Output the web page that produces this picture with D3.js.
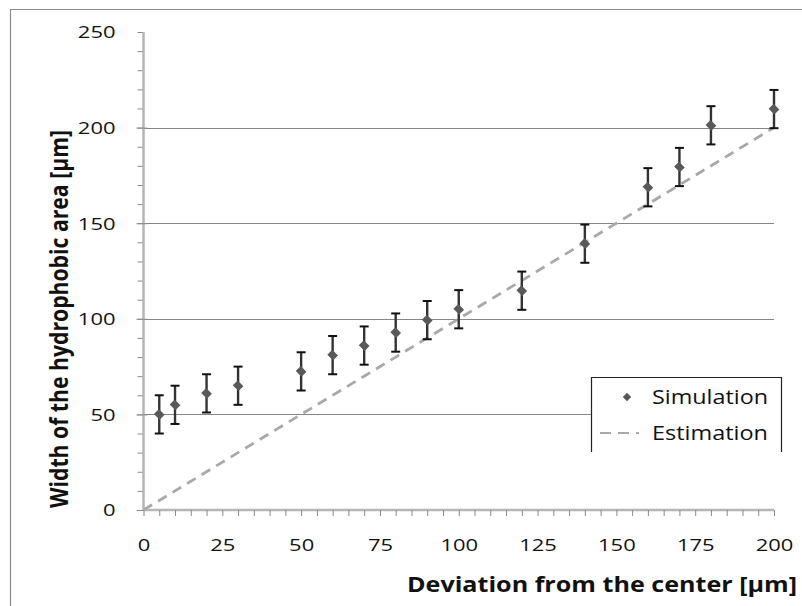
<!DOCTYPE html>
<html><head><meta charset="utf-8">
<script src="https://cdn.jsdelivr.net/npm/d3@7"></script>
<style>body{margin:0;background:#fff}svg{display:block}</style>
</head><body>
<svg id="c" width="802" height="606"></svg>
<script>
const xValues = [5,10,20,30,50,60,70,80,90,100,120,140,160,170,180,200];
const simValues = [50,55,61,65,72.5,81,86,92.8,99.3,105,114.7,139.3,168.8,179.4,201.2,209.7];
const errValues = [10,10,10,10,10,10,10,10,10,10,10,10,10,10,10,10];
const estX = [0,200];
const estY = [0,200];
const xTicks = [0,25,50,75,100,125,150,175,200];
const yTicks = [0,50,100,150,200,250];
const seriesNames = ["Simulation","Estimation"];
const xTitle = "Deviation from the center [µm]";
const yTitle = "Width of the hydrophobic area [µm]";

const svg = d3.select("#c");
svg.append("rect").attr("width",802).attr("height",606).attr("fill","#fff");
svg.append("path").attr("d","M10.5,606V9.5H802").attr("fill","none").attr("stroke","#8c8c8c").attr("stroke-width",1.2);

const x = d3.scaleLinear().domain([0,200]).range([143.5,774]);
const y = d3.scaleLinear().domain([0,250]).range([510,32]);
const font = "'Open Sans', sans-serif";
function stretch(sel,k){ sel.each(function(){ const w=this.getComputedTextLength(); d3.select(this).attr("textLength",w*k).attr("lengthAdjust","spacingAndGlyphs"); }); }

svg.append("g").selectAll("line").data(yTicks.filter(d=>d>0&&d<250)).join("line")
  .attr("x1",x(0)).attr("x2",x(200)).attr("y1",d=>Math.round(y(d))+0.5).attr("y2",d=>Math.round(y(d))+0.5)
  .attr("stroke","#868686").attr("stroke-width",1);

const yMinor = svg.append("g").attr("transform",`translate(${x(0)},0)`)
  .call(d3.axisLeft(y).tickValues(d3.range(0,251,10)).tickSize(6).tickFormat(""));
yMinor.select(".domain").remove();
yMinor.selectAll("line").attr("stroke","#8a8a8a");
const yMajor = svg.append("g").attr("transform",`translate(${x(0)},0)`)
  .call(d3.axisLeft(y).tickValues(yTicks).tickSize(7).tickPadding(21));
yMajor.select(".domain").attr("stroke","#b5b5b5").attr("stroke-width",2.5).attr("d",`M0,${y(0)}V${y(250)}`);
yMajor.selectAll(".tick line").attr("stroke","#8a8a8a").attr("x2",-7).attr("x1",4);
yMajor.selectAll(".tick text").attr("font-family",font).attr("font-size",16.5).attr("fill","#111").attr("dy","0.36em").call(stretch,1.33);
yMajor.selectAll(".tick").filter(d=>d===250).select("line").remove();

const xMinor = svg.append("g").attr("transform",`translate(0,${y(0)})`)
  .call(d3.axisBottom(x).tickValues(d3.range(0,201,5)).tickSize(6).tickFormat(""));
xMinor.select(".domain").attr("stroke","#b5b5b5").attr("stroke-width",2.5).attr("d",`M${x(0)},0H${x(200)}`);
xMinor.selectAll("line").attr("stroke","#8a8a8a");
const xMajor = svg.append("g").attr("transform",`translate(0,${y(0)})`)
  .call(d3.axisBottom(x).tickValues(xTicks).tickSize(0).tickPadding(29));
xMajor.select(".domain").remove();
xMajor.selectAll(".tick text").attr("font-family",font).attr("font-size",16.5).attr("fill","#111").call(stretch,1.33);

const line = d3.line().x(d=>x(d[0])).y(d=>y(d[1]));
svg.append("path").datum(d3.zip(estX,estY)).attr("d",line)
  .attr("fill","none").attr("stroke","#a9a9a9").attr("stroke-width",2.8).attr("stroke-dasharray","10,7");

const data = xValues.map((v,i)=>({x:v,y:simValues[i],e:errValues[i]}));
const eb = svg.append("g").selectAll("g").data(data).join("g");
eb.append("line").attr("x1",d=>x(d.x)).attr("x2",d=>x(d.x)).attr("y1",d=>y(d.y+d.e)).attr("y2",d=>y(d.y-d.e))
  .attr("stroke","#333").attr("stroke-width",2.4);
eb.append("line").attr("x1",d=>x(d.x)-4.5).attr("x2",d=>x(d.x)+4.5).attr("y1",d=>y(d.y+d.e)).attr("y2",d=>y(d.y+d.e))
  .attr("stroke","#111").attr("stroke-width",2);
eb.append("line").attr("x1",d=>x(d.x)-4.5).attr("x2",d=>x(d.x)+4.5).attr("y1",d=>y(d.y-d.e)).attr("y2",d=>y(d.y-d.e))
  .attr("stroke","#111").attr("stroke-width",2);

const sym = d3.symbol().type(d3.symbolSquare).size(60);
svg.append("g").selectAll("path").data(data).join("path")
  .attr("d",sym).attr("transform",d=>`translate(${x(d.x)},${y(d.y)}) rotate(45) scale(1.05,0.9)`)
  .attr("fill","#595959");

const lg = svg.append("g");
lg.append("rect").attr("x",591).attr("y",377.5).attr("width",190).attr("height",76).attr("fill","#fff");
lg.append("path").attr("d","M591.5,452V377.5H781.5V452").attr("fill","none").attr("stroke","#222").attr("stroke-width",1.2);
lg.append("path").attr("d",d3.symbol().type(d3.symbolSquare).size(36)()).attr("transform","translate(627,397) rotate(45)").attr("fill","#595959");
lg.append("text").attr("x",652).attr("y",404).text(seriesNames[0])
  .attr("font-family",font).attr("font-size",20).attr("fill","#111")
  .attr("textLength",116).attr("lengthAdjust","spacingAndGlyphs");
lg.append("line").attr("x1",600).attr("x2",639).attr("y1",433).attr("y2",433)
  .attr("stroke","#a9a9a9").attr("stroke-width",2).attr("stroke-dasharray","11,7");
lg.append("text").attr("x",652).attr("y",440).text(seriesNames[1])
  .attr("font-family",font).attr("font-size",20).attr("fill","#111")
  .attr("textLength",116).attr("lengthAdjust","spacingAndGlyphs");

svg.append("text").attr("x",797).attr("y",592).attr("text-anchor","end").text(xTitle)
  .attr("font-family",font).attr("font-weight","bold").attr("font-size",21).attr("fill","#111")
  .attr("textLength",390).attr("lengthAdjust","spacingAndGlyphs");
svg.append("text").attr("transform","translate(68,319) scale(1.2,1) rotate(-90)").attr("text-anchor","middle").text(yTitle)
  .attr("font-family",font).attr("font-weight","bold").attr("font-size",21).attr("fill","#111")
  .attr("textLength",378).attr("lengthAdjust","spacingAndGlyphs");
</script>
</body></html>
